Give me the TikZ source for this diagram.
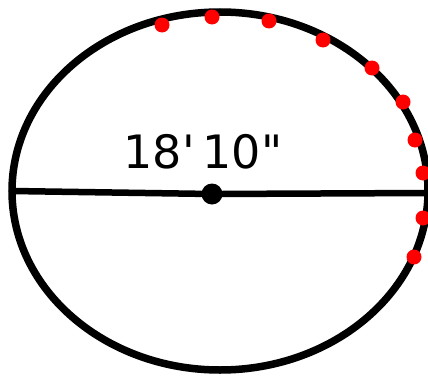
\documentclass[tikz,border=0pt]{standalone}
\usepackage{fontspec}
\setmainfont{DejaVu Sans}[Ligatures=TeXOff]
\usetikzlibrary{positioning,calc}
\definecolor{dotred}{HTML}{FF0000}
\tikzset{
  rim style/.style={draw=black, line width=7.5pt},
  dia style/.style={draw=black, line width=6.5pt, line cap=round},
  ctr style/.style={circle, fill=black, inner sep=0pt, minimum size=21pt},
  red dot/.style={circle, fill=dotred, inner sep=0pt, minimum size=15pt},
  len style/.style={font=\fontsize{46}{46}\selectfont, inner sep=0pt}
}
\begin{document}
\begin{tikzpicture}[x=1pt, y=1pt]
\useasboundingbox (0,0) rectangle (428,376);
\draw[rim style] (220,185) ellipse [x radius=208, y radius=179];
\coordinate (left) at (12,185);
\coordinate (right) at (428,183);
\node[ctr style] (ctr) at (212,182) {};
\draw[dia style] (left) -- (ctr) -- (right);
\node[len style] (len) at (203,224) {18'\kern8pt10"};
% red marks along the rim
\foreach \px/\py [count=\i] in {162/351, 212/359, 269/355, 323/336, 372/308,
    403/274, 415/236, 423/203, 423/158, 414/119}
  \node[red dot] (m\i) at (\px,\py) {};
\end{tikzpicture}
\end{document}
